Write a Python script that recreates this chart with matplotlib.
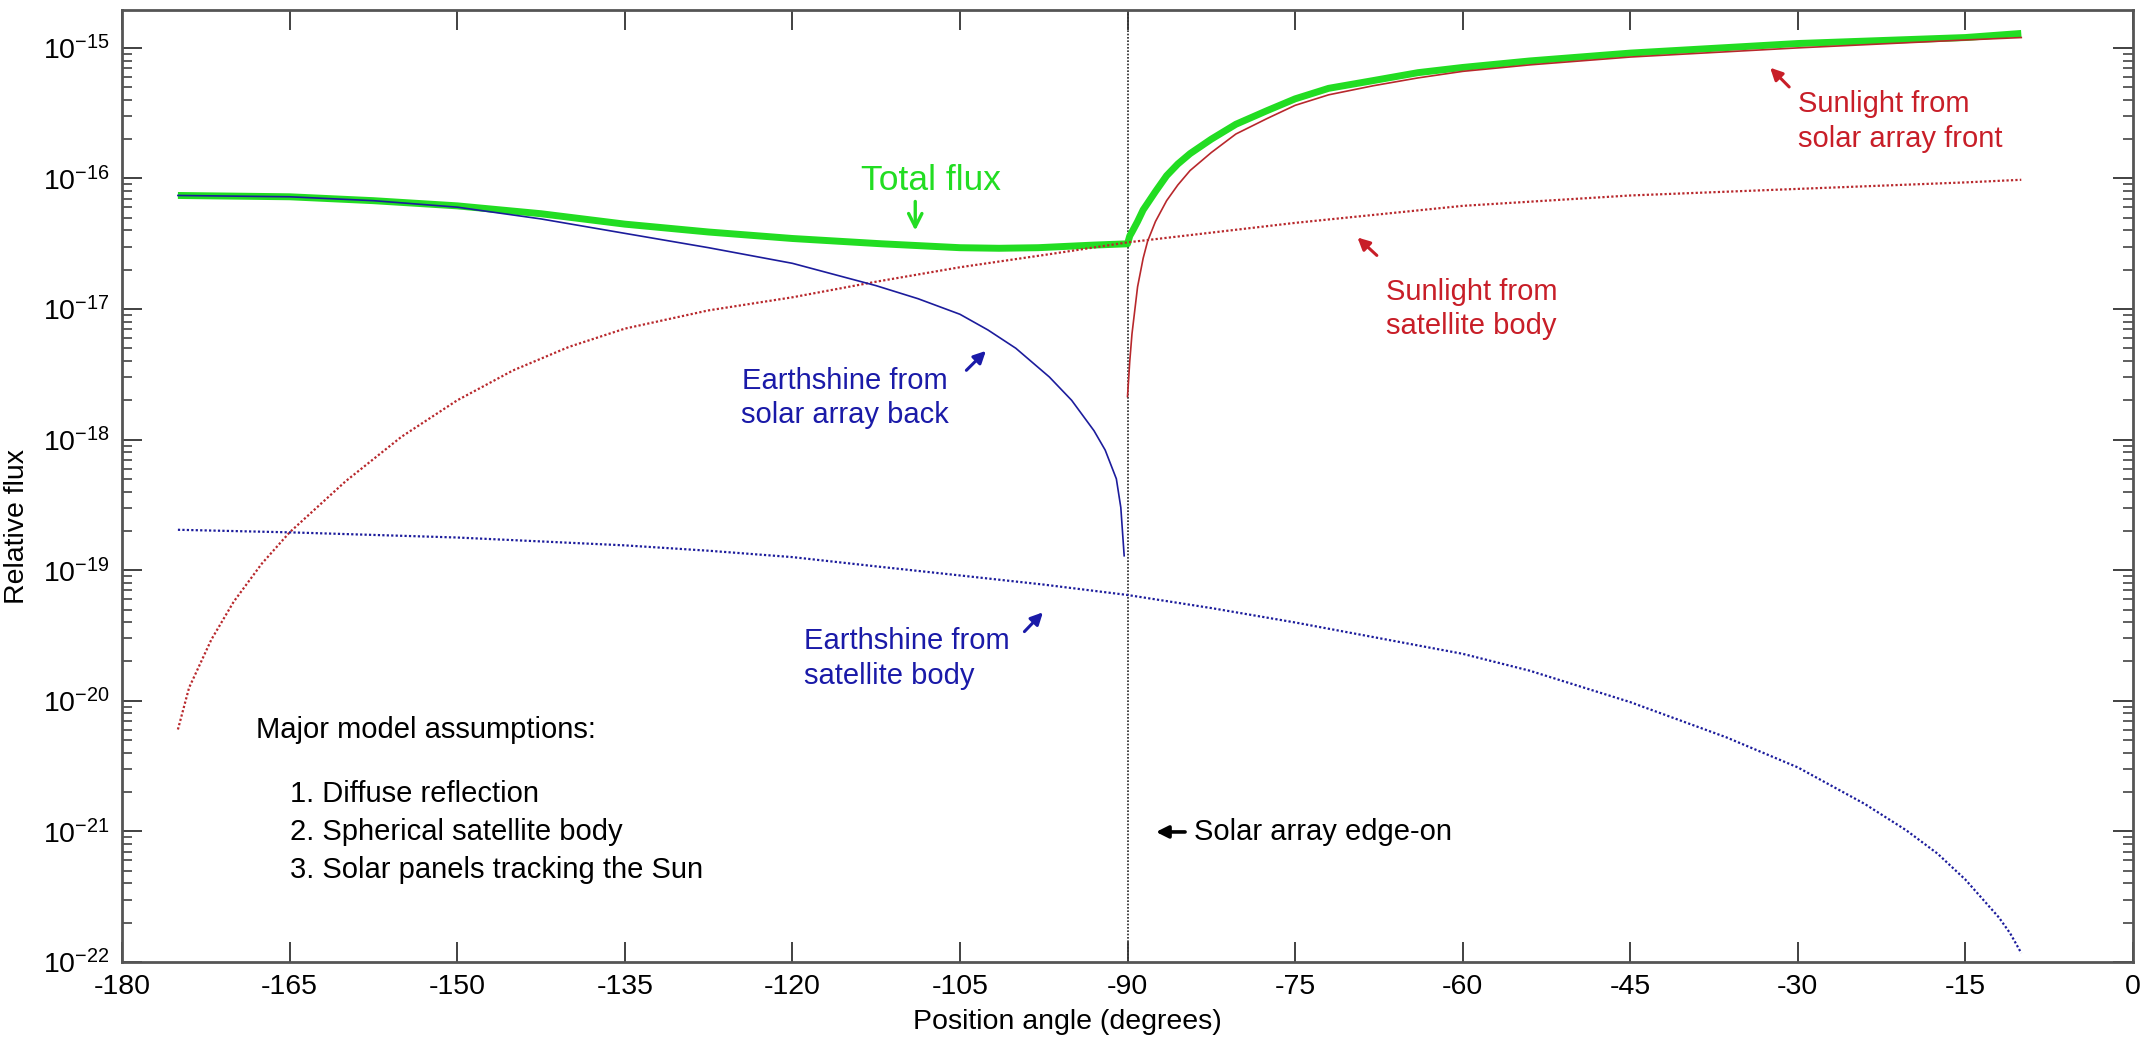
import numpy as np
import matplotlib
matplotlib.use('Agg')
import matplotlib.pyplot as plt
from matplotlib.ticker import FixedLocator, FuncFormatter, LogLocator, NullFormatter

plt.rcParams['font.family'] = ['Liberation Sans', 'DejaVu Sans']
plt.rcParams['mathtext.fontset'] = 'custom'
plt.rcParams['mathtext.rm'] = 'Liberation Sans'
plt.rcParams['axes.unicode_minus'] = False

# ---- data (position angle in degrees, relative flux) ----
total_ang = [-175, -165, -157.5, -150, -142.5, -135, -127.5, -120, -112, -105, -101.5,
             -98, -93, -90, -89.8, -89.6, -89.1, -88.6, -88.2, -87.5, -86.5, -85.5,
             -84.4, -82.5, -80.3, -77.5, -75, -72, -68, -64, -60, -54, -45, -30, -15, -10]
total_flux = [7.41e-17, 7.24e-17, 6.76e-17, 6.17e-17, 5.37e-17, 4.47e-17, 3.89e-17,
              3.47e-17, 3.16e-17, 2.95e-17, 2.92e-17, 2.95e-17, 3.09e-17, 3.16e-17,
              3.63e-17, 3.89e-17, 4.68e-17, 5.75e-17, 6.46e-17, 7.94e-17, 1.05e-16,
              1.29e-16, 1.55e-16, 2.00e-16, 2.60e-16, 3.31e-16, 4.07e-16, 4.90e-16,
              5.62e-16, 6.46e-16, 7.08e-16, 7.94e-16, 9.12e-16, 1.08e-15, 1.20e-15,
              1.29e-15]

es_back_ang = [-175, -165, -157.5, -150, -142.5, -135, -127.5, -120, -112.5, -108.75,
               -105, -102.5, -100, -97, -95, -93, -92, -91, -90.6, -90.3]
es_back_flux = [7.41e-17, 7.24e-17, 6.76e-17, 6.03e-17, 4.90e-17, 3.80e-17, 2.95e-17,
                2.24e-17, 1.51e-17, 1.20e-17, 9.12e-18, 6.92e-18, 5.01e-18, 3.02e-18,
                2.00e-18, 1.17e-18, 8.32e-19, 5.01e-19, 3.02e-19, 1.29e-19]

sun_front_ang = [-90, -89.8, -89.6, -89.1, -88.6, -88.2, -87.5, -86.5, -85.5, -84.4,
                 -82.5, -80.3, -77.5, -75, -72, -68, -64, -60, -54, -45, -30, -15, -10]
sun_front_flux = [2.14e-18, 3.98e-18, 6.46e-18, 1.48e-17, 2.45e-17, 3.31e-17, 4.68e-17,
                  6.76e-17, 8.91e-17, 1.15e-16, 1.58e-16, 2.19e-16, 2.88e-16, 3.63e-16,
                  4.37e-16, 5.13e-16, 5.89e-16, 6.61e-16, 7.41e-16, 8.51e-16, 1.00e-15,
                  1.15e-15, 1.20e-15]

sun_body_ang = [-175, -174, -172, -170, -167.5, -165, -160, -155, -150, -145, -140,
                -135, -127.5, -120, -112.5, -105, -97, -90, -75, -60, -45, -30, -15, -10]
sun_body_flux = [6.03e-21, 1.26e-20, 2.95e-20, 5.75e-20, 1.12e-19, 1.95e-19, 4.79e-19,
                 1.05e-18, 2.00e-18, 3.39e-18, 5.13e-18, 7.08e-18, 9.77e-18, 1.23e-17,
                 1.62e-17, 2.09e-17, 2.63e-17, 3.24e-17, 4.57e-17, 6.17e-17, 7.41e-17,
                 8.32e-17, 9.33e-17, 9.77e-17]

es_body_ang = [-175, -165, -150, -135, -127.5, -120, -112.5, -105, -97.5, -90, -82.5,
               -75, -67.5, -60, -54, -45, -36.4, -30, -24, -20.3, -17.5, -15, -12, -11,
               -10]
es_body_flux = [2.04e-19, 1.95e-19, 1.78e-19, 1.55e-19, 1.41e-19, 1.26e-19, 1.07e-19,
                9.12e-20, 7.76e-20, 6.46e-20, 5.13e-20, 3.98e-20, 3.02e-20, 2.29e-20,
                1.70e-20, 9.77e-21, 5.25e-21, 3.09e-21, 1.62e-21, 1.02e-21, 6.76e-22,
                4.27e-22, 2.19e-22, 1.66e-22, 1.17e-22]

x_ticks = list(range(-180, 1, 15))
y_ticks = [10.0 ** e for e in range(-22, -14)]

GREEN = '#22dd22'
BLUE = '#1c1c9c'
RED = '#b8282c'
RED_TXT = '#c81e28'
BLUE_TXT = '#1a1aa8'
FS = 21

fig = plt.figure(figsize=(21.45, 10.43), dpi=100)
ax = fig.add_axes([0.0569, 0.0777, 0.9375, 0.9127])

dot = (0, (1, 1))
ax.plot(sun_body_ang, sun_body_flux, color=RED, lw=1.6, ls=dot)
ax.plot(es_body_ang, es_body_flux, color=BLUE, lw=1.6, ls=dot)
ax.plot(es_back_ang, es_back_flux, color=BLUE, lw=1.2)
ax.plot(sun_front_ang, sun_front_flux, color=RED, lw=1.2)
ax.plot(total_ang, total_flux, color=GREEN, lw=5.0, solid_capstyle='butt', zorder=1.5)
ax.axvline(-90, color='#222222', lw=1.2, ls=dot, zorder=1)

ax.set_yscale('log')
ax.set_xlim(-180, 0)
ax.set_ylim(1e-22, 1.95e-15)
ax.xaxis.set_major_locator(FixedLocator(x_ticks))
ax.yaxis.set_major_locator(FixedLocator(y_ticks))
ax.yaxis.set_minor_locator(LogLocator(base=10, subs=np.arange(2, 10), numticks=20))
ax.yaxis.set_minor_formatter(NullFormatter())
ax.yaxis.set_major_formatter(FuncFormatter(
    lambda v, p: r'$\mathregular{10^{%d}}$' % int(round(np.log10(v)))))

ax.tick_params(which='both', direction='in', top=True, right=True, colors='#333333',
               labelcolor='black', labelsize=20.5)
ax.tick_params(which='major', length=14.5, width=1.3, pad=9)
ax.tick_params(which='minor', length=7.5, width=1.1)
for s in ax.spines.values():
    s.set_color('#555555')
    s.set_linewidth(2.0)

ax.set_xlabel('Position angle (degrees)', fontsize=20.5)
ax.xaxis.set_label_coords(0.47, -0.049)
ax.set_ylabel('Relative flux', fontsize=20.5)
ax.yaxis.set_label_coords(-0.046, 0.457)

# ---- annotations ----
ax.text(-107.6, 9.6e-17, 'Total flux', color=GREEN, fontsize=25.5, ha='center', va='center')
ax.annotate('', xy=(-109, 3.8e-17), xytext=(-109, 7.0e-17),
            arrowprops=dict(arrowstyle='->', color=GREEN, lw=2.4, mutation_scale=24))

ax.text(-66.9, 1.0e-17, 'Sunlight from\nsatellite body', color=RED_TXT, fontsize=FS,
        ha='left', va='center', linespacing=1.3)
ax.annotate('', xy=(-69.6, 3.65e-17), xytext=(-67.5, 2.49e-17),
            arrowprops=dict(arrowstyle='-|>', color=RED_TXT, lw=2.2, mutation_scale=18))

ax.text(-30.0, 2.72e-16, 'Sunlight from\nsolar array front', color=RED_TXT, fontsize=FS,
        ha='left', va='center', linespacing=1.3)
ax.annotate('', xy=(-32.65, 7.3e-16), xytext=(-30.6, 4.85e-16),
            arrowprops=dict(arrowstyle='-|>', color=RED_TXT, lw=2.2, mutation_scale=18))

ax.text(-115.3, 2.08e-18, 'Earthshine from\nsolar array back', color=BLUE_TXT, fontsize=FS,
        ha='center', va='center', linespacing=1.3)
ax.annotate('', xy=(-102.5, 4.95e-18), xytext=(-104.6, 3.28e-18),
            arrowprops=dict(arrowstyle='-|>', color=BLUE_TXT, lw=2.2, mutation_scale=18))

ax.text(-119.0, 2.1e-20, 'Earthshine from\nsatellite body', color=BLUE_TXT, fontsize=FS,
        ha='left', va='center', linespacing=1.3)
ax.annotate('', xy=(-97.4, 4.93e-20), xytext=(-99.4, 3.27e-20),
            arrowprops=dict(arrowstyle='-|>', color=BLUE_TXT, lw=2.2, mutation_scale=18))

ax.text(-168.0, 5.96e-21, 'Major model assumptions:', fontsize=FS, ha='left', va='center')
for i, line in enumerate(['1. Diffuse reflection', '2. Spherical satellite body',
                          '3. Solar panels tracking the Sun']):
    ax.text(-165.0, 1.95e-21 / (1.96 ** i), line, fontsize=FS, ha='left', va='center')

ax.text(-84.05, 9.9e-22, 'Solar array edge-on', fontsize=FS, ha='left', va='center')
ax.annotate('', xy=(-87.7, 9.9e-22), xytext=(-84.6, 9.9e-22),
            arrowprops=dict(arrowstyle='-|>', color='black', lw=2.6, mutation_scale=18))

fig.savefig('out.png', dpi=100)
